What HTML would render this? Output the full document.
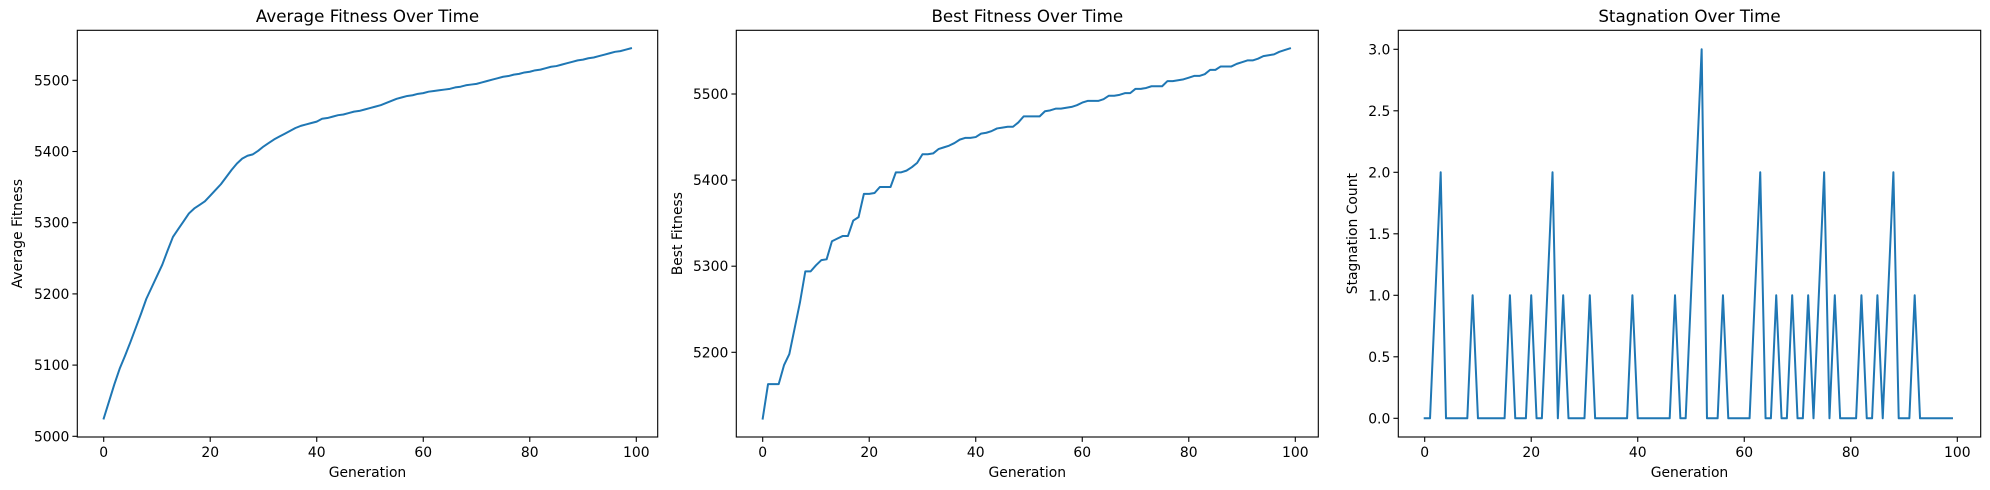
<!DOCTYPE html>
<html><head><meta charset="utf-8"><style>
html,body{margin:0;padding:0;background:#fff;}
svg{display:block;font-family:"DejaVu Sans","Liberation Sans",sans-serif;}
</style></head><body>
<svg id="fig" width="1990" height="490" viewBox="0 0 1990 490" xmlns="http://www.w3.org/2000/svg"></svg>
<script>
const generations = Array.from({length:100},(_,i)=>i);
const avgFitness = [5025,5049,5073,5095,5113,5132,5152,5172,5193,5209,5225,5241,5261,5280,5291,5302,5313,5320,5325,5330,5338,5346,5354,5364,5374,5383,5390,5394,5396,5401,5407,5412,5417,5421,5425,5429,5433,5436,5438,5440,5442,5446,5447,5449,5451,5452,5454,5456,5457,5459,5461,5463,5465,5468,5471,5474,5476,5478,5479,5481,5482,5484,5485,5486,5487,5488,5490,5491,5493,5494,5495,5497,5499,5501,5503,5505,5506,5508,5509,5511,5512,5514,5515,5517,5519,5520,5522,5524,5526,5528,5529,5531,5532,5534,5536,5538,5540,5541,5543,5545];
const bestFitness = [5123,5163,5163,5163,5185,5198,5228,5258,5294,5294,5301,5307,5308,5329,5332,5335,5335,5353,5357,5384,5384,5385,5392,5392,5392,5409,5409,5411,5415,5420,5430,5430,5431,5436,5438,5440,5443,5447,5449,5449,5450,5454,5455,5457,5460,5461,5462,5462,5467,5474,5474,5474,5474,5480,5481,5483,5483,5484,5485,5487,5490,5492,5492,5492,5494,5498,5498,5499,5501,5501,5506,5506,5507,5509,5509,5509,5515,5515,5516,5517,5519,5521,5521,5523,5528,5528,5532,5532,5532,5535,5537,5539,5539,5541,5544,5545,5546,5549,5551,5553];
const stagnation = [0,0,1,2,0,0,0,0,0,1,0,0,0,0,0,0,1,0,0,0,1,0,0,1,2,0,1,0,0,0,0,1,0,0,0,0,0,0,0,1,0,0,0,0,0,0,0,1,0,0,1,2,3,0,0,0,1,0,0,0,0,0,1,2,0,0,1,0,0,1,0,0,1,0,1,2,0,1,0,0,0,0,1,0,0,1,0,1,2,0,0,0,1,0,0,0,0,0,0,0];
const xTicks = [0,20,40,60,80,100];
const avgTicks = [5000,5100,5200,5300,5400,5500];
const bestTicks = [5200,5300,5400,5500];
const stagTicks = [0,0.5,1,1.5,2,2.5,3];
const stagTickLabels = ["0.0","0.5","1.0","1.5","2.0","2.5","3.0"];

const NS="http://www.w3.org/2000/svg";
const svg=document.getElementById('fig');
function mk(tag,attrs,parent){const e=document.createElementNS(NS,tag);for(const k in attrs)e.setAttribute(k,attrs[k]);(parent||svg).appendChild(e);return e;}
const TOP=30.3,BOT=437;

function panel(cfg){
  const g=mk('g',{});
  
  
  const xs=v=>cfg.left+26.4+v*5.326;
  const ys=cfg.ys;
  // series
  const pts=generations.map((gen,i)=>xs(gen).toFixed(2)+','+ys(cfg.data[i]).toFixed(2)).join(' ');
  const line=mk('polyline',{points:pts,fill:'none',stroke:'#1f77b4','stroke-width':2,'stroke-linejoin':'round','stroke-linecap':'square'},g);
  
  
  // frame
  const fr=mk('rect',{x:cfg.left,y:TOP,width:cfg.right-cfg.left,height:BOT-TOP,fill:'none',stroke:'#000','stroke-width':1.1},g);
  
  
  // x ticks
  xTicks.forEach(t=>{
    const x=xs(t);
    mk('line',{x1:x,y1:BOT,x2:x,y2:BOT+4.9,stroke:'#000','stroke-width':1.1},g);
    const tx=mk('text',{x:x,y:BOT+20,'font-size':13.9,'text-anchor':'middle',fill:'#000'},g);
    tx.textContent=t;
    
    
  });
  // y ticks
  cfg.yTicks.forEach((t,i)=>{
    const y=ys(t);
    mk('line',{x1:cfg.left-4.9,y1:y,x2:cfg.left,y2:y,stroke:'#000','stroke-width':1.1},g);
    const tx=mk('text',{x:cfg.left-8,y:y+5,'font-size':13.9,'text-anchor':'end',fill:'#000'},g);
    tx.textContent=cfg.yLabels?cfg.yLabels[i]:t;
    
    
  });
  const cx=(cfg.left+cfg.right)/2;
  const title=mk('text',{x:cx,y:22,'font-size':16.7,'text-anchor':'middle',fill:'#000'},g);
  title.textContent=cfg.title;
  
  
  const xl=mk('text',{x:cx,y:477,'font-size':13.9,'text-anchor':'middle',fill:'#000'},g);
  xl.textContent='Generation';
  
  
  const yc=(TOP+BOT)/2;
  const yl=mk('text',{x:cfg.ylx,y:yc,'font-size':13.9,'text-anchor':'middle',fill:'#000',transform:'rotate(-90 '+cfg.ylx+' '+yc+')'},g);
  yl.textContent=cfg.ylabel;
  
  
}

panel({name:'average-fitness-panel',left:77.3,right:657.7,data:avgFitness,
  ys:v=>436.3-(v-5000)*0.712,yTicks:avgTicks,title:'Average Fitness Over Time',ylabel:'Average Fitness',ylx:22});
panel({name:'best-fitness-panel',left:736.3,right:1318.3,data:bestFitness,
  ys:v=>352.3-(v-5200)*0.861,yTicks:bestTicks,title:'Best Fitness Over Time',ylabel:'Best Fitness',ylx:682});
panel({name:'stagnation-panel',left:1398.3,right:1980.7,data:stagnation,
  ys:v=>418.3-v*123,yTicks:stagTicks,yLabels:stagTickLabels,title:'Stagnation Over Time',ylabel:'Stagnation Count',ylx:1357});
</script>
</body></html>
